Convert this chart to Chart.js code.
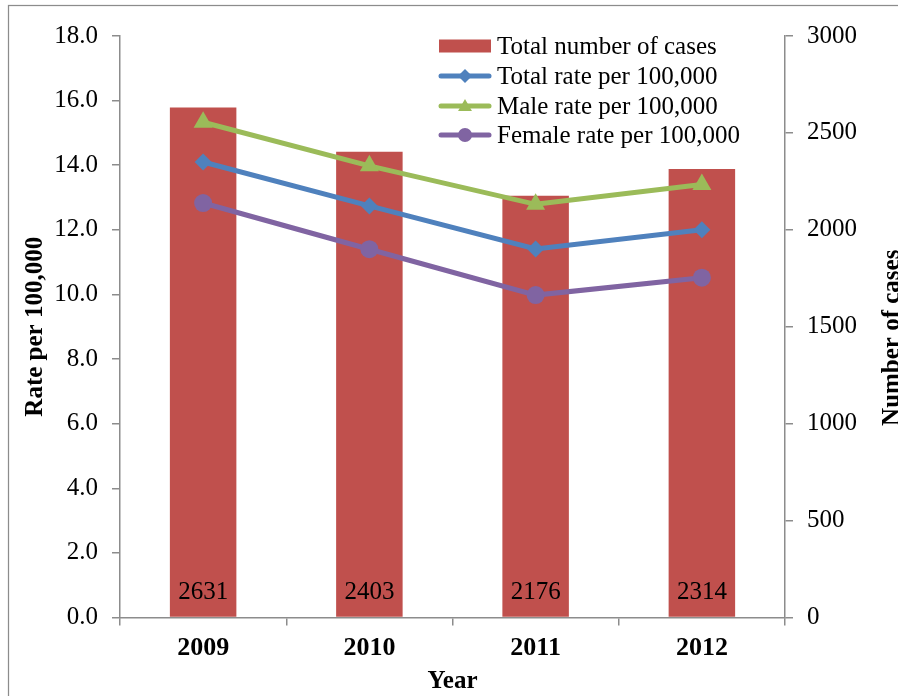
<!DOCTYPE html>
<html>
<head>
<meta charset="utf-8">
<script src="https://cdn.jsdelivr.net/npm/chart.js@4/dist/chart.umd.min.js"></script>
<style>
  html, body { margin: 0; padding: 0; background: #ffffff; overflow: hidden; }
  #wrap { position: relative; width: 898px; height: 696px; }
</style>
</head>
<body>
<div id="wrap"><canvas id="chart" width="898" height="696"></canvas></div>
<script>
// Years on the category axis
const years = ['2009', '2010', '2011', '2012'];
// Case counts (right axis)
const totalCases = [2631, 2403, 2176, 2314];
// Rates per 100,000 (left axis)
const totalRate = [14.1, 12.74, 11.41, 12.0];
const maleRate = [15.33, 13.98, 12.79, 13.4];
const femaleRate = [12.83, 11.4, 9.98, 10.52];
// Axis tick ranges
const rateTicks = { min: 0, max: 18, step: 2 };
const caseTicks = { min: 0, max: 3000, step: 500 };

const FONT = "'Liberation Serif', 'Times New Roman', serif";
const AXIS_GRAY = '#8c8c8c';
const RED = '#C0504D', BLUE = '#4F81BD', GREEN = '#9BBB59', PURPLE = '#8064A2';

function marker(ctx, style, x, y, r, color) {
  ctx.save();
  ctx.fillStyle = color;
  ctx.beginPath();
  if (style === 'rectRot') {
    ctx.moveTo(x, y - r); ctx.lineTo(x + r, y); ctx.lineTo(x, y + r); ctx.lineTo(x - r, y);
  } else if (style === 'triangle') {
    const w = r * Math.sqrt(3) / 2;
    ctx.moveTo(x, y - r); ctx.lineTo(x + w, y + r / 2); ctx.lineTo(x - w, y + r / 2);
  } else {
    ctx.arc(x, y, r, 0, Math.PI * 2);
  }
  ctx.closePath();
  ctx.fill();
  ctx.restore();
}

const decorations = {
  id: 'decorations',
  beforeDraw(chart) {
    const ctx = chart.ctx;
    ctx.save();
    ctx.fillStyle = '#ffffff';
    ctx.fillRect(0, 0, chart.width, chart.height);
    ctx.strokeStyle = AXIS_GRAY;
    ctx.lineWidth = 1.25;
    ctx.strokeRect(8.5, 5.5, 1000, 1000);
    ctx.restore();
  },
  afterDraw(chart) {
    const ctx = chart.ctx;
    const area = chart.chartArea;
    const midY = (area.top + area.bottom) / 2;
    ctx.save();
    ctx.fillStyle = '#000000';

    // value labels near the foot of each bar
    const barMeta = chart.getDatasetMeta(0);
    ctx.font = '25px ' + FONT;
    ctx.textAlign = 'center';
    ctx.textBaseline = 'middle';
    barMeta.data.forEach((bar, i) => {
      ctx.fillText(String(totalCases[i]), bar.x, area.bottom - 25);
    });

    // axis titles
    ctx.font = 'bold 25px ' + FONT;
    ctx.textBaseline = 'alphabetic';
    ctx.textAlign = 'center';
    ctx.fillText('Year', (area.left + area.right) / 2, 688);

    ctx.save();
    ctx.translate(42, midY);
    ctx.rotate(-Math.PI / 2);
    ctx.fillText('Rate per 100,000', 0, 0);
    ctx.restore();

    ctx.save();
    ctx.translate(899, midY + 11);
    ctx.rotate(-Math.PI / 2);
    ctx.fillText('Number of cases', 0, 0);
    ctx.restore();

    // legend inside the plot, top right
    const lx0 = 439, lx1 = 491, tx = 497;
    const rowY = [46, 76, 106, 135];
    ctx.font = '25px ' + FONT;
    ctx.textAlign = 'left';
    ctx.textBaseline = 'middle';
    chart.data.datasets.forEach((ds, i) => {
      const y = rowY[i];
      if (ds.type === 'bar') {
        ctx.fillStyle = ds.backgroundColor;
        ctx.fillRect(lx0, y - 6.5, lx1 - lx0, 13);
      } else {
        ctx.strokeStyle = ds.borderColor;
        ctx.lineWidth = 5;
        ctx.lineCap = 'round';
        ctx.beginPath();
        ctx.moveTo(lx0 + 2, y);
        ctx.lineTo(lx1 - 2, y);
        ctx.stroke();
        const r = ds.pointStyle === 'triangle' ? 8 : 7;
        marker(ctx, ds.pointStyle, (lx0 + lx1) / 2, ds.pointStyle === 'triangle' ? y + 1 : y, r, ds.borderColor);
      }
      ctx.fillStyle = '#000000';
      ctx.fillText(ds.label, tx, y + 1);
    });
    ctx.restore();
  }
};

const axisGrid = {
  display: true,
  drawOnChartArea: false,
  drawTicks: true,
  tickLength: 8,
  color: AXIS_GRAY,
  lineWidth: 1.5
};
const axisBorder = { display: true, color: AXIS_GRAY, width: 1.5 };

new Chart(document.getElementById('chart'), {
  data: {
    labels: years,
    datasets: [
      {
        type: 'bar',
        label: 'Total number of cases',
        data: totalCases,
        yAxisID: 'yCases',
        backgroundColor: RED,
        borderWidth: 0,
        categoryPercentage: 1.0,
        barPercentage: 0.4,
        order: 10
      },
      {
        type: 'line',
        label: 'Total rate per 100,000',
        data: totalRate,
        yAxisID: 'yRate',
        borderColor: BLUE,
        backgroundColor: BLUE,
        borderWidth: 5,
        pointStyle: 'rectRot',
        pointRadius: 8.5,
        pointBorderWidth: 0,
        order: 3
      },
      {
        type: 'line',
        label: 'Male rate per 100,000',
        data: maleRate,
        yAxisID: 'yRate',
        borderColor: GREEN,
        backgroundColor: GREEN,
        borderWidth: 5,
        pointStyle: 'triangle',
        pointRadius: 11,
        pointBorderWidth: 0,
        order: 2
      },
      {
        type: 'line',
        label: 'Female rate per 100,000',
        data: femaleRate,
        yAxisID: 'yRate',
        borderColor: PURPLE,
        backgroundColor: PURPLE,
        borderWidth: 5,
        pointStyle: 'circle',
        pointRadius: 9,
        pointBorderWidth: 0,
        order: 1
      }
    ]
  },
  options: {
    responsive: false,
    animation: false,
    devicePixelRatio: 1,
    layout: { padding: { top: 36, left: 0, right: 0, bottom: 0 } },
    plugins: {
      legend: { display: false },
      tooltip: { enabled: false }
    },
    scales: {
      x: {
        offset: true,
        grid: Object.assign({}, axisGrid, { offset: true }),
        border: axisBorder,
        ticks: {
          color: '#000000',
          font: { family: FONT, size: 26, weight: 'bold' },
          padding: 7,
          maxRotation: 0
        },
        afterFit(scale) { scale.height = 78.5; }
      },
      yRate: {
        type: 'linear',
        position: 'left',
        min: rateTicks.min,
        max: rateTicks.max,
        grid: axisGrid,
        border: axisBorder,
        ticks: {
          stepSize: rateTicks.step,
          color: '#000000',
          font: { family: FONT, size: 25 },
          padding: 14,
          callback: (v) => Number(v).toFixed(1)
        },
        afterFit(scale) { scale.width = 120; }
      },
      yCases: {
        type: 'linear',
        position: 'right',
        min: caseTicks.min,
        max: caseTicks.max,
        grid: axisGrid,
        border: axisBorder,
        ticks: {
          stepSize: caseTicks.step,
          color: '#000000',
          font: { family: FONT, size: 25 },
          padding: 14,
          callback: (v) => String(v)
        },
        afterFit(scale) { scale.width = 113; }
      }
    }
  },
  plugins: [decorations]
});
</script>
</body>
</html>
